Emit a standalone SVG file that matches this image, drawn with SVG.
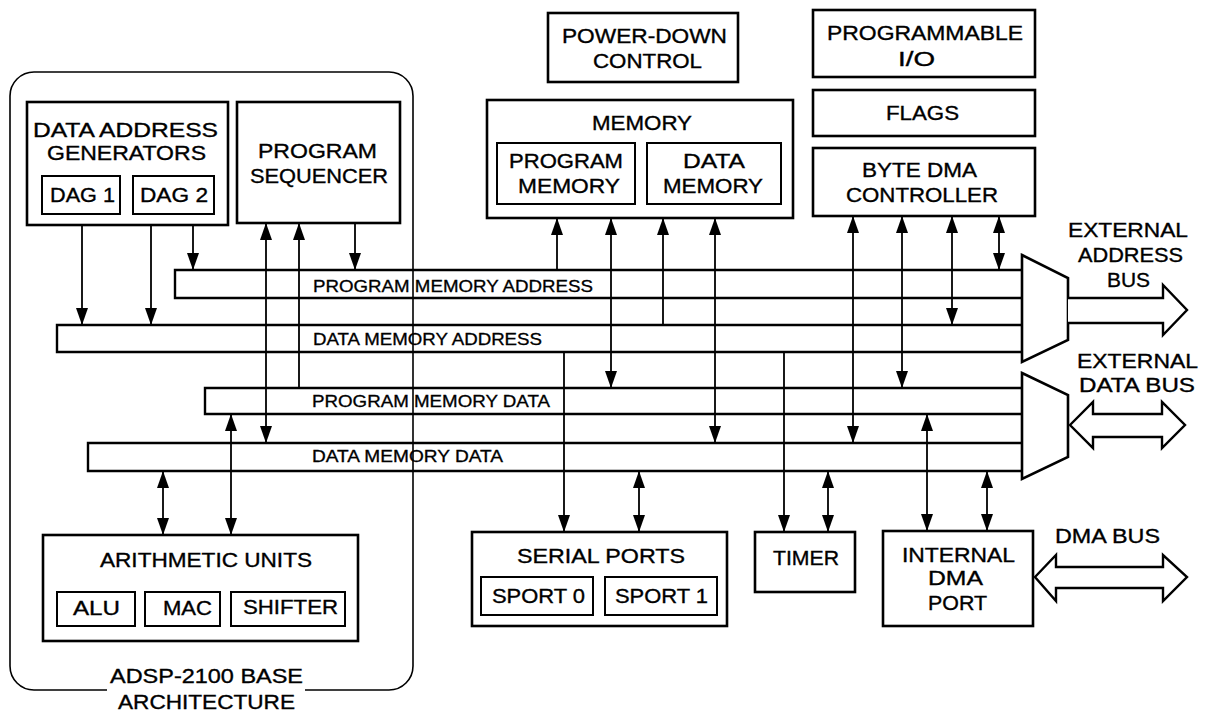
<svg xmlns="http://www.w3.org/2000/svg" width="1208" height="711" viewBox="0 0 1208 711">
<style>
  .box { fill: #fff; stroke: #000; stroke-width: 2.6; }
  .ibox { fill: #fff; stroke: #000; stroke-width: 2; }
  .t { font-family: "Liberation Sans", Arial, sans-serif; font-size: 20px; fill: #000; stroke: #000; stroke-width: 0.35; }
  .bt { font-family: "Liberation Sans", Arial, sans-serif; font-size: 16px; fill: #000; stroke: #000; stroke-width: 0.3; }
  .bus { fill: none; stroke: #000; stroke-width: 2.4; }
  .hol { fill: #fff; stroke: #000; stroke-width: 2.4; stroke-linejoin: miter; }
  .c { stroke: #000; stroke-width: 1.8; fill: none; }
  .outer { fill: none; stroke: #000; stroke-width: 1.6; }
</style>
<defs>
  <marker id="ah" viewBox="0 0 17 12" refX="17" refY="6" markerWidth="17" markerHeight="12" markerUnits="userSpaceOnUse" orient="auto-start-reverse">
    <path d="M0,0 L17,6 L0,12 z" fill="#000"/>
  </marker>
</defs>
<rect width="1208" height="711" fill="#fff"/>

<g id="base-architecture">
  <path class="outer" d="M107,690 H34 A24,24 0 0 1 10,666 V96 A24,24 0 0 1 34,72 H389 A24,24 0 0 1 413,96 V666 A24,24 0 0 1 389,690 H305"/>
  <text class="t" x="110" y="683" textLength="193" lengthAdjust="spacingAndGlyphs">ADSP-2100 BASE</text>
  <text class="t" x="118" y="709" textLength="177" lengthAdjust="spacingAndGlyphs">ARCHITECTURE</text>
</g>

<g id="buses">
  <path class="bus" d="M1022,270 H175 V298 H1022"/>
  <path class="bus" d="M1022,325 H57 V352 H1022"/>
  <path class="bus" d="M1022,388 H205 V414 H1022"/>
  <path class="bus" d="M1022,443 H88 V471 H1022"/>
  <text class="bt" x="313" y="292" textLength="280" lengthAdjust="spacingAndGlyphs">PROGRAM MEMORY ADDRESS</text>
  <text class="bt" x="313" y="345" textLength="229" lengthAdjust="spacingAndGlyphs">DATA MEMORY ADDRESS</text>
  <text class="bt" x="312" y="407" textLength="238" lengthAdjust="spacingAndGlyphs">PROGRAM MEMORY DATA</text>
  <text class="bt" x="312" y="462" textLength="191" lengthAdjust="spacingAndGlyphs">DATA MEMORY DATA</text>
</g>

<g id="connectors">
  <line class="c" x1="82" y1="214" x2="82" y2="325" marker-end="url(#ah)"/>
  <line class="c" x1="151" y1="214" x2="151" y2="325" marker-end="url(#ah)"/>
  <line class="c" x1="193" y1="214" x2="193" y2="270" marker-end="url(#ah)"/>
  <line class="c" x1="266" y1="223" x2="266" y2="443" marker-start="url(#ah)" marker-end="url(#ah)"/>
  <line class="c" x1="299" y1="388" x2="299" y2="223" marker-end="url(#ah)"/>
  <line class="c" x1="355" y1="223" x2="355" y2="270" marker-end="url(#ah)"/>
  <line class="c" x1="557" y1="270" x2="557" y2="218" marker-end="url(#ah)"/>
  <line class="c" x1="611" y1="218" x2="611" y2="388" marker-start="url(#ah)" marker-end="url(#ah)"/>
  <line class="c" x1="663" y1="325" x2="663" y2="218" marker-end="url(#ah)"/>
  <line class="c" x1="715" y1="218" x2="715" y2="443" marker-start="url(#ah)" marker-end="url(#ah)"/>
  <line class="c" x1="853" y1="216" x2="853" y2="443" marker-start="url(#ah)" marker-end="url(#ah)"/>
  <line class="c" x1="902" y1="216" x2="902" y2="388" marker-start="url(#ah)" marker-end="url(#ah)"/>
  <line class="c" x1="952" y1="216" x2="952" y2="325" marker-start="url(#ah)" marker-end="url(#ah)"/>
  <line class="c" x1="999" y1="216" x2="999" y2="270" marker-start="url(#ah)" marker-end="url(#ah)"/>
  <line class="c" x1="564" y1="352" x2="564" y2="532" marker-end="url(#ah)"/>
  <line class="c" x1="639" y1="471" x2="639" y2="532" marker-start="url(#ah)" marker-end="url(#ah)"/>
  <line class="c" x1="784" y1="352" x2="784" y2="532" marker-end="url(#ah)"/>
  <line class="c" x1="828" y1="471" x2="828" y2="532" marker-start="url(#ah)" marker-end="url(#ah)"/>
  <line class="c" x1="927" y1="414" x2="927" y2="531" marker-start="url(#ah)" marker-end="url(#ah)"/>
  <line class="c" x1="987" y1="471" x2="987" y2="531" marker-start="url(#ah)" marker-end="url(#ah)"/>
  <line class="c" x1="163" y1="471" x2="163" y2="535" marker-start="url(#ah)" marker-end="url(#ah)"/>
  <line class="c" x1="231" y1="414" x2="231" y2="535" marker-start="url(#ah)" marker-end="url(#ah)"/>
</g>

<g id="dag">
  <rect class="box" x="27" y="102" width="201" height="123"/>
  <text class="t" x="33" y="137" textLength="185" lengthAdjust="spacingAndGlyphs">DATA ADDRESS</text>
  <text class="t" x="47" y="160" textLength="159" lengthAdjust="spacingAndGlyphs">GENERATORS</text>
  <g id="dag1">
    <rect class="ibox" x="42" y="176" width="78" height="38"/>
    <text class="t" x="50" y="202" textLength="65" lengthAdjust="spacingAndGlyphs">DAG 1</text>
  </g>
  <g id="dag2">
    <rect class="ibox" x="133" y="176" width="81" height="38"/>
    <text class="t" x="140" y="202" textLength="68" lengthAdjust="spacingAndGlyphs">DAG 2</text>
  </g>
</g>

<g id="sequencer">
  <rect class="box" x="237" y="102" width="163" height="121"/>
  <text class="t" x="258" y="158" textLength="119" lengthAdjust="spacingAndGlyphs">PROGRAM</text>
  <text class="t" x="250" y="183" textLength="138" lengthAdjust="spacingAndGlyphs">SEQUENCER</text>
</g>

<g id="power-down">
  <rect class="box" x="548" y="13" width="190" height="69"/>
  <text class="t" x="562" y="43" textLength="165" lengthAdjust="spacingAndGlyphs">POWER-DOWN</text>
  <text class="t" x="593" y="68" textLength="109" lengthAdjust="spacingAndGlyphs">CONTROL</text>
</g>

<g id="memory">
  <rect class="box" x="487" y="100" width="306" height="118"/>
  <text class="t" x="592" y="130" textLength="100" lengthAdjust="spacingAndGlyphs">MEMORY</text>
  <g id="program-memory">
    <rect class="ibox" x="497" y="143" width="138" height="61"/>
    <text class="t" x="509" y="168" textLength="114" lengthAdjust="spacingAndGlyphs">PROGRAM</text>
    <text class="t" x="518" y="193" textLength="102" lengthAdjust="spacingAndGlyphs">MEMORY</text>
  </g>
  <g id="data-memory">
    <rect class="ibox" x="647" y="143" width="134" height="61"/>
    <text class="t" x="683" y="168" textLength="62" lengthAdjust="spacingAndGlyphs">DATA</text>
    <text class="t" x="663" y="193" textLength="100" lengthAdjust="spacingAndGlyphs">MEMORY</text>
  </g>
</g>

<g id="programmable-io">
  <rect class="box" x="813" y="10" width="222" height="67"/>
  <text class="t" x="827" y="40" textLength="196" lengthAdjust="spacingAndGlyphs">PROGRAMMABLE</text>
  <text class="t" x="898" y="66" textLength="37" lengthAdjust="spacingAndGlyphs">I/O</text>
</g>

<g id="flags">
  <rect class="box" x="813" y="90" width="222" height="46"/>
  <text class="t" x="886" y="120" textLength="73" lengthAdjust="spacingAndGlyphs">FLAGS</text>
</g>

<g id="byte-dma">
  <rect class="box" x="813" y="148" width="222" height="68"/>
  <text class="t" x="862" y="177" textLength="115" lengthAdjust="spacingAndGlyphs">BYTE DMA</text>
  <text class="t" x="846" y="202" textLength="152" lengthAdjust="spacingAndGlyphs">CONTROLLER</text>
</g>

<g id="address-mux">
  <polygon class="box" points="1022,255 1068,278 1068,340 1022,362"/>
</g>
<g id="data-mux">
  <polygon class="box" points="1022,373 1068,395 1068,457 1022,479"/>
</g>

<g id="external-address-bus">
  <polyline class="hol" points="1068,298 1163,298 1163,285 1187,310 1163,335 1163,323 1068,323"/>
  <text class="t" x="1068" y="237" textLength="120" lengthAdjust="spacingAndGlyphs">EXTERNAL</text>
  <text class="t" x="1078" y="262" textLength="105" lengthAdjust="spacingAndGlyphs">ADDRESS</text>
  <text class="t" x="1107" y="287" textLength="43" lengthAdjust="spacingAndGlyphs">BUS</text>
</g>

<g id="external-data-bus">
  <polygon class="hol" points="1070,425 1093,402 1093,414 1162,414 1162,402 1185,425 1162,448 1162,437 1093,437 1093,448"/>
  <text class="t" x="1077" y="368" textLength="121" lengthAdjust="spacingAndGlyphs">EXTERNAL</text>
  <text class="t" x="1079" y="392" textLength="116" lengthAdjust="spacingAndGlyphs">DATA BUS</text>
</g>

<g id="arithmetic-units">
  <rect class="box" x="43" y="535" width="315" height="106"/>
  <text class="t" x="100" y="567" textLength="212" lengthAdjust="spacingAndGlyphs">ARITHMETIC UNITS</text>
  <g id="alu">
    <rect class="ibox" x="57" y="592" width="78" height="34"/>
    <text class="t" x="73" y="615" textLength="47" lengthAdjust="spacingAndGlyphs">ALU</text>
  </g>
  <g id="mac">
    <rect class="ibox" x="145" y="592" width="75" height="34"/>
    <text class="t" x="163" y="615" textLength="49" lengthAdjust="spacingAndGlyphs">MAC</text>
  </g>
  <g id="shifter">
    <rect class="ibox" x="231" y="592" width="114" height="34"/>
    <text class="t" x="243" y="614" textLength="95" lengthAdjust="spacingAndGlyphs">SHIFTER</text>
  </g>
</g>

<g id="serial-ports">
  <rect class="box" x="472" y="532" width="255" height="94"/>
  <text class="t" x="517" y="563" textLength="168" lengthAdjust="spacingAndGlyphs">SERIAL PORTS</text>
  <g id="sport0">
    <rect class="ibox" x="481" y="577" width="112" height="38"/>
    <text class="t" x="492" y="603" textLength="93" lengthAdjust="spacingAndGlyphs">SPORT 0</text>
  </g>
  <g id="sport1">
    <rect class="ibox" x="605" y="577" width="112" height="38"/>
    <text class="t" x="615" y="603" textLength="93" lengthAdjust="spacingAndGlyphs">SPORT 1</text>
  </g>
</g>

<g id="timer">
  <rect class="box" x="755" y="532" width="100" height="60"/>
  <text class="t" x="773" y="565" textLength="66" lengthAdjust="spacingAndGlyphs">TIMER</text>
</g>

<g id="internal-dma-port">
  <rect class="box" x="883" y="531" width="150" height="95"/>
  <text class="t" x="902" y="562" textLength="113" lengthAdjust="spacingAndGlyphs">INTERNAL</text>
  <text class="t" x="928" y="585" textLength="55" lengthAdjust="spacingAndGlyphs">DMA</text>
  <text class="t" x="928" y="610" textLength="59" lengthAdjust="spacingAndGlyphs">PORT</text>
</g>

<g id="dma-bus">
  <polygon class="hol" points="1035,577 1056,555 1056,567 1163,567 1163,555 1187,577 1163,601 1163,588 1056,588 1056,601"/>
  <text class="t" x="1055" y="543" textLength="105" lengthAdjust="spacingAndGlyphs">DMA BUS</text>
</g>
</svg>
